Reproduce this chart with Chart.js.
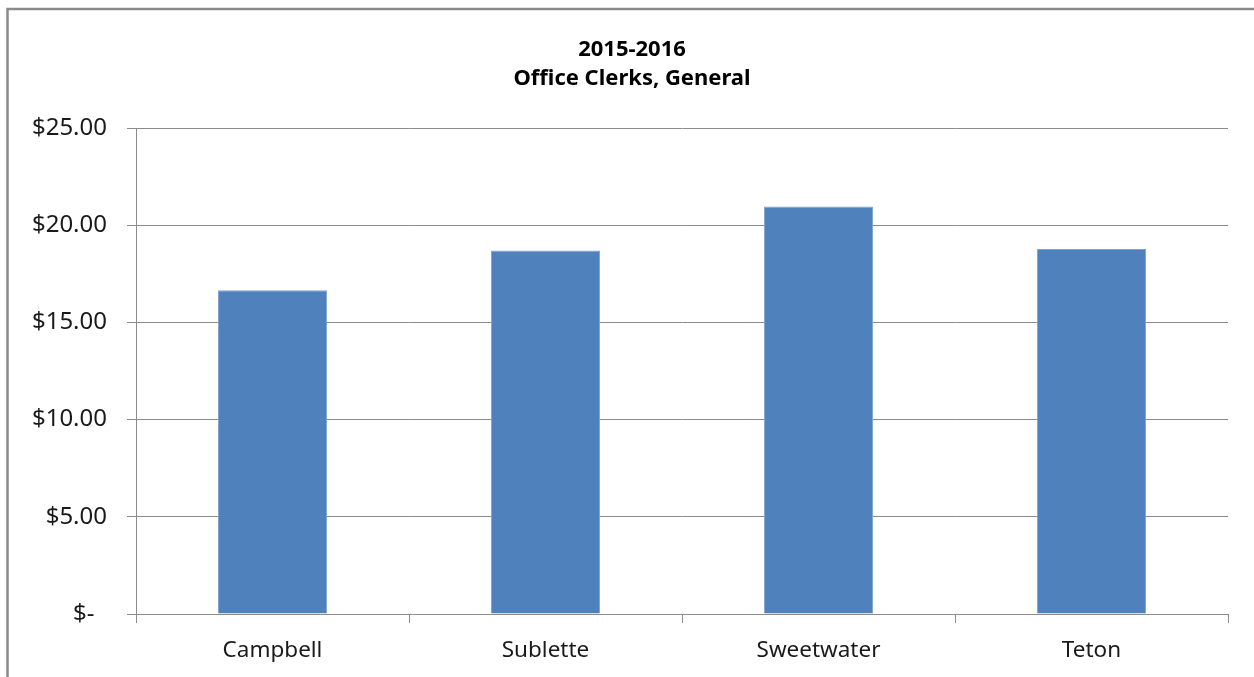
<!DOCTYPE html>
<html>
<head>
<meta charset="utf-8">
<style>
  html, body { margin: 0; padding: 0; background: #fff; overflow: hidden; }
  #wrap { position: relative; width: 1254px; height: 677px; }
</style>
<script src="https://cdn.jsdelivr.net/npm/chart.js@4.4.1/dist/chart.umd.min.js"></script>
</head>
<body>
<div id="wrap"><canvas id="c" width="1254" height="677"></canvas></div>
<script>
const categories = ["Campbell", "Sublette", "Sweetwater", "Teton"];
const wages = [16.66, 18.70, 20.96, 18.78];
const titleLines = ["2015-2016", "Office Clerks, General"];
const yTicks = [0, 5, 10, 15, 20, 25];

const framePlugin = {
  id: 'frame',
  beforeDraw(chart) {
    const ctx = chart.ctx;
    ctx.save();
    ctx.fillStyle = '#ffffff';
    ctx.fillRect(0, 0, chart.width, chart.height);
    ctx.strokeStyle = '#8a8a8a';
    ctx.lineWidth = 2.5;
    ctx.strokeRect(7.5, 9, chart.width + 20, chart.height + 20);
    ctx.restore();
  },
  afterDraw(chart) {
    const ctx = chart.ctx;
    ctx.save();
    ctx.fillStyle = '#000000';
    ctx.font = 'bold 22px "Noto Sans"';
    ctx.textAlign = 'center';
    ctx.textBaseline = 'alphabetic';
    const cx = 632;
    titleLines.forEach((t, i) => ctx.fillText(t, cx, 55.5 + i * 29.5));
    ctx.restore();
  }
};

new Chart(document.getElementById('c'), {
  type: 'bar',
  data: {
    labels: categories,
    datasets: [{
      data: wages,
      backgroundColor: '#4f81bd',
      borderColor: '#7fa3d1',
      borderWidth: 1,
      barPercentage: 0.4,
      categoryPercentage: 1.0
    }]
  },
  options: {
    responsive: false,
    animation: false,
    devicePixelRatio: 1,
    layout: { padding: { left: 0, right: 26, top: 128, bottom: 0 } },
    plugins: {
      legend: { display: false },
      tooltip: { enabled: false },
      title: { display: false }
    },
    scales: {
      x: {
        grid: { display: true, drawOnChartArea: false, drawTicks: true, tickLength: 9, color: '#8c8c8c', offset: true },
        border: { display: true, color: '#8c8c8c', width: 1 },
        ticks: {
          color: '#1a1a1a',
          font: { family: 'Noto Sans', size: 22.5 },
          padding: 14
        },
        afterFit(scale) { scale.height = 63; }
      },
      y: {
        min: 0,
        max: 25,
        afterBuildTicks(scale) { scale.ticks = yTicks.map(v => ({ value: v })); },
        grid: { color: '#8c8c8c', tickLength: 9, drawTicks: true },
        border: { display: true, color: '#8c8c8c', width: 1 },
        ticks: {
          color: '#1a1a1a',
          font: { family: 'Noto Sans', size: 24 },
          padding: 20,
          callback(v) { return v === 0 ? '$-  ' : '$' + Number(v).toFixed(2); }
        },
        afterFit(scale) { scale.width = 136; }
      }
    }
  },
  plugins: [framePlugin]
});
</script>
</body>
</html>
